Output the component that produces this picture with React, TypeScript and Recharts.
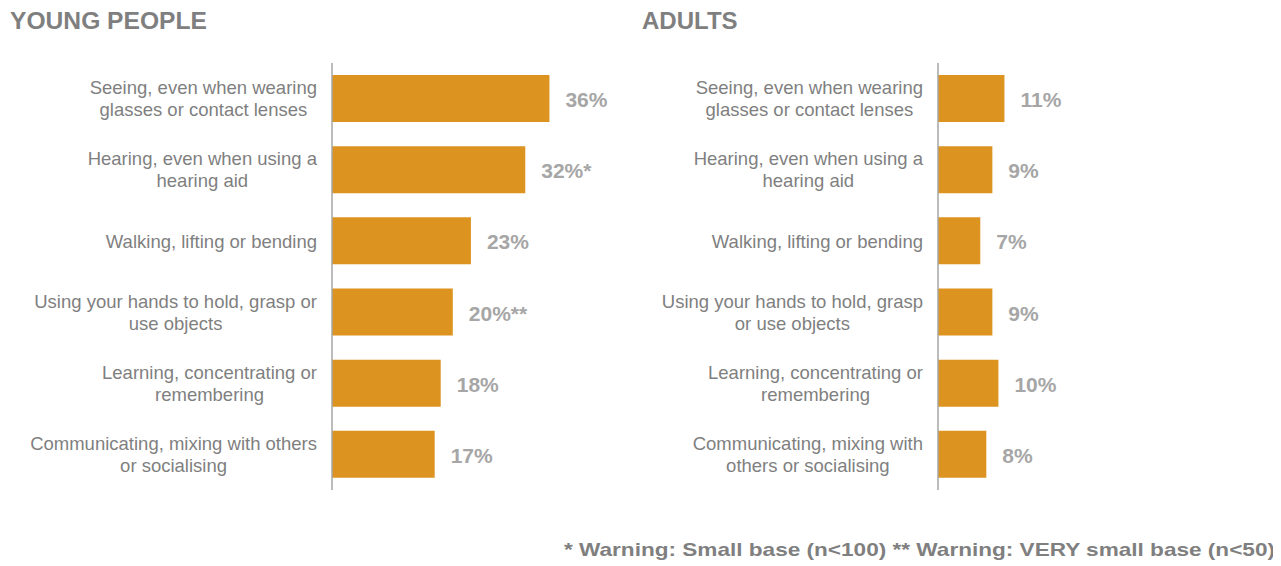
import { BarChart, Bar, XAxis, YAxis, LabelList } from 'recharts'

const youngCategories = [
  'Seeing, even when wearing\nglasses or contact lenses',
  'Hearing, even when using a\nhearing aid',
  'Walking, lifting or bending',
  'Using your hands to hold, grasp or\nuse objects',
  'Learning, concentrating or\nremembering',
  'Communicating, mixing with others\nor socialising',
]
const adultCategories = [
  'Seeing, even when wearing\nglasses or contact lenses',
  'Hearing, even when using a\nhearing aid',
  'Walking, lifting or bending',
  'Using your hands to hold, grasp\nor use objects',
  'Learning, concentrating or\nremembering',
  'Communicating, mixing with\nothers or socialising',
]
const youngValues = [36, 32, 23, 20, 18, 17]
const youngNotes = ['', '*', '', '**', '', '']
const adultValues = [11, 9, 7, 9, 10, 8]
const adultNotes = ['', '', '', '', '', '']

const FONT = '"Liberation Sans", Arial, sans-serif'
const BAR = '#dc9320'

let ctx: CanvasRenderingContext2D | null = null
function measure(t: string, size: number) {
  if (!ctx) ctx = document.createElement('canvas').getContext('2d')
  ctx!.font = `${size}px ${FONT}`
  return ctx!.measureText(t).width
}

function CategoryTick({ x, y, payload }: any) {
  const lines = String(payload.value).split('\n')
  const w = Math.max(...lines.map(l => measure(l, 18.5)))
  const cx = x - w / 2
  const lh = 22
  const y0 = y - ((lines.length - 1) * lh) / 2
  return (
    <text textAnchor="middle" fill="#7f7f7f" fontSize={18.5} fontFamily={FONT}>
      {lines.map((l, i) => (
        <tspan key={i} x={cx} y={y0 + i * lh} dy="0.36em">{l}</tspan>
      ))}
    </text>
  )
}

function ValueLabel({ x, y, width, height, value, index, notes }: any) {
  return (
    <text
      x={x + width + 16}
      y={y + height / 2 + 1}
      dy="0.36em"
      fill="#a6a6a6"
      fontSize={21}
      fontWeight="bold"
      fontFamily={FONT}
    >
      {`${value}%${notes[index] ?? ''}`}
    </text>
  )
}

function Panel({ categories, values, notes, yWidth }: any) {
  const data = categories.map((c: string, i: number) => ({ label: c, value: values[i] }))
  return (
    <BarChart
      width={yWidth + 302}
      height={427}
      layout="vertical"
      data={data}
      margin={{ top: 0, right: 0, bottom: 0, left: 0 }}
    >
      <XAxis type="number" domain={[0, 50]} hide />
      <YAxis
        type="category"
        dataKey="label"
        width={yWidth}
        axisLine={{ stroke: '#a6a6a6', strokeWidth: 1.5 }}
        tickLine={false}
        tickSize={0}
        tickMargin={15}
        interval={0}
        tick={<CategoryTick />}
      />
      <Bar dataKey="value" fill={BAR} barSize={47} isAnimationActive={false}>
        <LabelList dataKey="value" content={(p: any) => <ValueLabel {...p} notes={notes} />} />
      </Bar>
    </BarChart>
  )
}

export default function App() {
  return (
    <div style={{ position: 'relative', width: 1265, height: 558 }}>
      <svg width={1265} height={558} style={{ position: 'absolute', left: 0, top: 0 }}>
        <text
          x={2}
          y={21}
          fill="#7f7f7f"
          fontSize={24}
          fontWeight="bold"
          fontFamily={FONT}
          textLength={197}
          lengthAdjust="spacingAndGlyphs"
        >
          YOUNG PEOPLE
        </text>
        <text x={634} y={21} fill="#7f7f7f" fontSize={24} fontWeight="bold" fontFamily={FONT}>
          ADULTS
        </text>
        <text
          x={556}
          y={548}
          fill="#7f7f7f"
          fontSize={18.5}
          fontWeight="bold"
          fontFamily={'"Liberation Sans Narrow", "Arial Narrow", ' + FONT}
          textLength={711}
          lengthAdjust="spacingAndGlyphs"
        >
          * Warning: Small base (n&lt;100) ** Warning: VERY small base (n&lt;50)
        </text>
      </svg>
      <div style={{ position: 'absolute', left: 0, top: 55 }}>
        <Panel categories={youngCategories} values={youngValues} notes={youngNotes} yWidth={324} />
      </div>
      <div style={{ position: 'absolute', left: 630, top: 55 }}>
        <Panel categories={adultCategories} values={adultValues} notes={adultNotes} yWidth={300} />
      </div>
    </div>
  )
}
